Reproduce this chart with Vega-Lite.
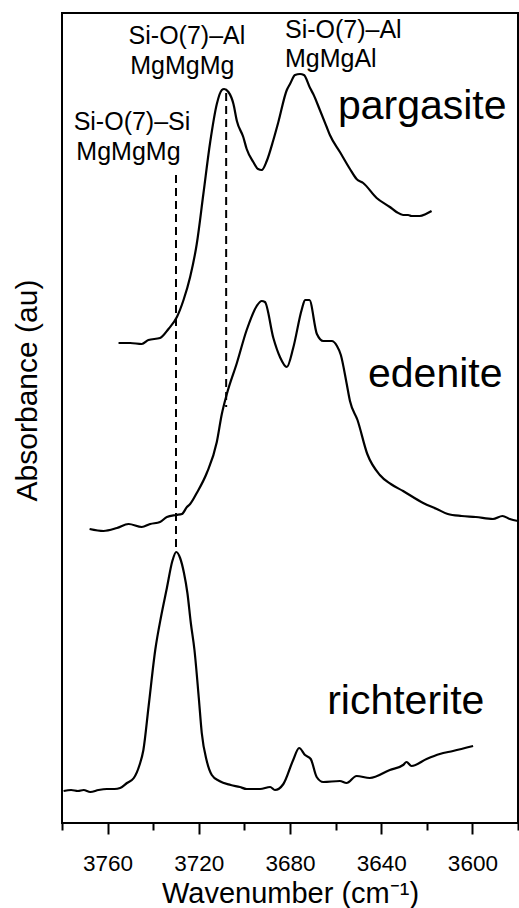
{
  "$schema": "https://vega.github.io/schema/vega-lite/v6.json",
  "autosize": {"type": "none"},
  "padding": {"left": 62, "top": 13, "right": 1, "bottom": 85},
  "width": 456,
  "height": 810,
  "background": "white",
  "config": {
    "view": {"stroke": "black", "strokeWidth": 2},
    "font": "Liberation Sans",
    "text": {"font": "Liberation Sans", "color": "black"}
  },
  "datasets": {
    "spectra": [
      {"sample": "richterite", "w": 3779.3, "a": 0.32},
      {"sample": "richterite", "w": 3776.0, "a": 0.33},
      {"sample": "richterite", "w": 3773.0, "a": 0.32},
      {"sample": "richterite", "w": 3770.5, "a": 0.33},
      {"sample": "richterite", "w": 3767.6, "a": 0.31},
      {"sample": "richterite", "w": 3764.0, "a": 0.33},
      {"sample": "richterite", "w": 3760.3, "a": 0.34},
      {"sample": "richterite", "w": 3757.0, "a": 0.34},
      {"sample": "richterite", "w": 3754.5, "a": 0.35},
      {"sample": "richterite", "w": 3751.5, "a": 0.40},
      {"sample": "richterite", "w": 3748.5, "a": 0.45},
      {"sample": "richterite", "w": 3746.0, "a": 0.58},
      {"sample": "richterite", "w": 3744.3, "a": 0.73},
      {"sample": "richterite", "w": 3742.0, "a": 1.17},
      {"sample": "richterite", "w": 3739.1, "a": 1.73},
      {"sample": "richterite", "w": 3736.5, "a": 2.07},
      {"sample": "richterite", "w": 3734.0, "a": 2.35},
      {"sample": "richterite", "w": 3731.6, "a": 2.62},
      {"sample": "richterite", "w": 3729.9, "a": 2.71},
      {"sample": "richterite", "w": 3728.2, "a": 2.65},
      {"sample": "richterite", "w": 3726.5, "a": 2.50},
      {"sample": "richterite", "w": 3725.0, "a": 2.30},
      {"sample": "richterite", "w": 3723.5, "a": 2.00},
      {"sample": "richterite", "w": 3721.9, "a": 1.73},
      {"sample": "richterite", "w": 3720.0, "a": 1.25},
      {"sample": "richterite", "w": 3718.7, "a": 0.90},
      {"sample": "richterite", "w": 3716.5, "a": 0.62},
      {"sample": "richterite", "w": 3714.3, "a": 0.48},
      {"sample": "richterite", "w": 3711.0, "a": 0.42},
      {"sample": "richterite", "w": 3706.0, "a": 0.38},
      {"sample": "richterite", "w": 3702.0, "a": 0.36},
      {"sample": "richterite", "w": 3699.0, "a": 0.34},
      {"sample": "richterite", "w": 3693.1, "a": 0.34},
      {"sample": "richterite", "w": 3688.7, "a": 0.36},
      {"sample": "richterite", "w": 3686.6, "a": 0.33},
      {"sample": "richterite", "w": 3682.9, "a": 0.39},
      {"sample": "richterite", "w": 3678.6, "a": 0.63},
      {"sample": "richterite", "w": 3676.0, "a": 0.75},
      {"sample": "richterite", "w": 3673.4, "a": 0.68},
      {"sample": "richterite", "w": 3670.9, "a": 0.64},
      {"sample": "richterite", "w": 3668.3, "a": 0.46},
      {"sample": "richterite", "w": 3665.4, "a": 0.41},
      {"sample": "richterite", "w": 3658.1, "a": 0.42},
      {"sample": "richterite", "w": 3655.2, "a": 0.40},
      {"sample": "richterite", "w": 3650.8, "a": 0.47},
      {"sample": "richterite", "w": 3645.0, "a": 0.45},
      {"sample": "richterite", "w": 3636.2, "a": 0.53},
      {"sample": "richterite", "w": 3630.4, "a": 0.58},
      {"sample": "richterite", "w": 3628.9, "a": 0.61},
      {"sample": "richterite", "w": 3626.7, "a": 0.57},
      {"sample": "richterite", "w": 3620.1, "a": 0.64},
      {"sample": "richterite", "w": 3614.3, "a": 0.69},
      {"sample": "richterite", "w": 3608.5, "a": 0.72},
      {"sample": "richterite", "w": 3599.7, "a": 0.77},

      {"sample": "edenite", "w": 3767.9, "a": 2.94},
      {"sample": "edenite", "w": 3761.8, "a": 2.92},
      {"sample": "edenite", "w": 3755.9, "a": 2.95},
      {"sample": "edenite", "w": 3750.8, "a": 2.99},
      {"sample": "edenite", "w": 3745.0, "a": 2.96},
      {"sample": "edenite", "w": 3741.3, "a": 2.99},
      {"sample": "edenite", "w": 3737.0, "a": 3.01},
      {"sample": "edenite", "w": 3734.0, "a": 3.06},
      {"sample": "edenite", "w": 3729.9, "a": 3.08},
      {"sample": "edenite", "w": 3727.4, "a": 3.09},
      {"sample": "edenite", "w": 3725.2, "a": 3.16},
      {"sample": "edenite", "w": 3723.8, "a": 3.19},
      {"sample": "edenite", "w": 3720.9, "a": 3.30},
      {"sample": "edenite", "w": 3716.5, "a": 3.50},
      {"sample": "edenite", "w": 3712.1, "a": 3.81},
      {"sample": "edenite", "w": 3709.9, "a": 4.09},
      {"sample": "edenite", "w": 3707.7, "a": 4.29},
      {"sample": "edenite", "w": 3703.3, "a": 4.60},
      {"sample": "edenite", "w": 3699.0, "a": 4.93},
      {"sample": "edenite", "w": 3694.6, "a": 5.17},
      {"sample": "edenite", "w": 3692.4, "a": 5.22},
      {"sample": "edenite", "w": 3691.0, "a": 5.21},
      {"sample": "edenite", "w": 3687.3, "a": 4.85},
      {"sample": "edenite", "w": 3684.4, "a": 4.66},
      {"sample": "edenite", "w": 3681.4, "a": 4.56},
      {"sample": "edenite", "w": 3678.6, "a": 4.75},
      {"sample": "edenite", "w": 3674.9, "a": 5.13},
      {"sample": "edenite", "w": 3673.4, "a": 5.23},
      {"sample": "edenite", "w": 3671.5, "a": 5.23},
      {"sample": "edenite", "w": 3668.2, "a": 4.89},
      {"sample": "edenite", "w": 3665.4, "a": 4.82},
      {"sample": "edenite", "w": 3661.7, "a": 4.82},
      {"sample": "edenite", "w": 3659.4, "a": 4.77},
      {"sample": "edenite", "w": 3657.7, "a": 4.68},
      {"sample": "edenite", "w": 3655.2, "a": 4.40},
      {"sample": "edenite", "w": 3653.7, "a": 4.22},
      {"sample": "edenite", "w": 3650.4, "a": 4.03},
      {"sample": "edenite", "w": 3646.1, "a": 3.69},
      {"sample": "edenite", "w": 3640.6, "a": 3.48},
      {"sample": "edenite", "w": 3635.8, "a": 3.39},
      {"sample": "edenite", "w": 3630.4, "a": 3.32},
      {"sample": "edenite", "w": 3621.6, "a": 3.20},
      {"sample": "edenite", "w": 3615.6, "a": 3.14},
      {"sample": "edenite", "w": 3610.8, "a": 3.09},
      {"sample": "edenite", "w": 3604.7, "a": 3.07},
      {"sample": "edenite", "w": 3598.5, "a": 3.06},
      {"sample": "edenite", "w": 3591.0, "a": 3.04},
      {"sample": "edenite", "w": 3586.8, "a": 3.07},
      {"sample": "edenite", "w": 3583.6, "a": 3.04},
      {"sample": "edenite", "w": 3580.0, "a": 3.02},

      {"sample": "pargasite", "w": 3755.2, "a": 4.80},
      {"sample": "pargasite", "w": 3750.1, "a": 4.80},
      {"sample": "pargasite", "w": 3745.0, "a": 4.79},
      {"sample": "pargasite", "w": 3742.1, "a": 4.83},
      {"sample": "pargasite", "w": 3737.0, "a": 4.85},
      {"sample": "pargasite", "w": 3733.3, "a": 4.94},
      {"sample": "pargasite", "w": 3729.6, "a": 5.06},
      {"sample": "pargasite", "w": 3726.7, "a": 5.23},
      {"sample": "pargasite", "w": 3723.8, "a": 5.46},
      {"sample": "pargasite", "w": 3720.9, "a": 5.79},
      {"sample": "pargasite", "w": 3718.0, "a": 6.29},
      {"sample": "pargasite", "w": 3715.0, "a": 6.81},
      {"sample": "pargasite", "w": 3712.1, "a": 7.19},
      {"sample": "pargasite", "w": 3709.9, "a": 7.33},
      {"sample": "pargasite", "w": 3708.9, "a": 7.34},
      {"sample": "pargasite", "w": 3707.0, "a": 7.31},
      {"sample": "pargasite", "w": 3704.8, "a": 7.19},
      {"sample": "pargasite", "w": 3703.3, "a": 7.02},
      {"sample": "pargasite", "w": 3700.5, "a": 6.86},
      {"sample": "pargasite", "w": 3699.0, "a": 6.74},
      {"sample": "pargasite", "w": 3696.1, "a": 6.61},
      {"sample": "pargasite", "w": 3694.0, "a": 6.54},
      {"sample": "pargasite", "w": 3692.4, "a": 6.53},
      {"sample": "pargasite", "w": 3690.2, "a": 6.62},
      {"sample": "pargasite", "w": 3687.3, "a": 6.83},
      {"sample": "pargasite", "w": 3685.1, "a": 7.01},
      {"sample": "pargasite", "w": 3681.4, "a": 7.33},
      {"sample": "pargasite", "w": 3680.0, "a": 7.39},
      {"sample": "pargasite", "w": 3677.8, "a": 7.48},
      {"sample": "pargasite", "w": 3675.6, "a": 7.49},
      {"sample": "pargasite", "w": 3673.9, "a": 7.48},
      {"sample": "pargasite", "w": 3671.2, "a": 7.35},
      {"sample": "pargasite", "w": 3669.8, "a": 7.29},
      {"sample": "pargasite", "w": 3666.9, "a": 7.13},
      {"sample": "pargasite", "w": 3663.9, "a": 6.96},
      {"sample": "pargasite", "w": 3662.5, "a": 6.88},
      {"sample": "pargasite", "w": 3658.1, "a": 6.71},
      {"sample": "pargasite", "w": 3653.7, "a": 6.54},
      {"sample": "pargasite", "w": 3650.8, "a": 6.44},
      {"sample": "pargasite", "w": 3647.9, "a": 6.40},
      {"sample": "pargasite", "w": 3642.0, "a": 6.25},
      {"sample": "pargasite", "w": 3636.2, "a": 6.16},
      {"sample": "pargasite", "w": 3633.3, "a": 6.11},
      {"sample": "pargasite", "w": 3630.4, "a": 6.08},
      {"sample": "pargasite", "w": 3628.2, "a": 6.08},
      {"sample": "pargasite", "w": 3626.7, "a": 6.07},
      {"sample": "pargasite", "w": 3623.1, "a": 6.07},
      {"sample": "pargasite", "w": 3620.4, "a": 6.09},
      {"sample": "pargasite", "w": 3617.9, "a": 6.12}
    ],
    "bands": [
      {"band": "Si-O(7)-Si MgMgMg", "w": 3730, "top": 6.48, "bottom": 2.74},
      {"band": "Si-O(7)-Al MgMgMg", "w": 3708, "top": 7.30, "bottom": 4.16}
    ],
    "names": [
      {"label": "pargasite", "w": 3659.0, "a": 7.04},
      {"label": "edenite", "w": 3645.8, "a": 4.36},
      {"label": "richterite", "w": 3663.7, "a": 1.09}
    ],
    "assignments": [
      {"label": "Si-O(7)–Si", "w": 3774.9, "a": 6.93},
      {"label": "MgMgMg", "w": 3773.7, "a": 6.63},
      {"label": "Si-O(7)–Al", "w": 3750.8, "a": 7.79},
      {"label": "MgMgMg", "w": 3750.1, "a": 7.49},
      {"label": "Si-O(7)–Al", "w": 3682.2, "a": 7.85},
      {"label": "MgMgAl", "w": 3682.2, "a": 7.56}
    ]
  },
  "layer": [
    {
      "data": {"name": "spectra"},
      "mark": {"type": "line", "color": "black", "strokeWidth": 2.2, "clip": true, "interpolate": "monotone"},
      "encoding": {
        "x": {
          "field": "w",
          "type": "quantitative",
          "scale": {"domain": [3780, 3580], "nice": false, "zero": false},
          "axis": {
            "values": [3780, 3770, 3760, 3750, 3740, 3730, 3720, 3710, 3700, 3690, 3680, 3670, 3660, 3650, 3640, 3630, 3620, 3610, 3600, 3590, 3580],
            "format": "d",
            "labelExpr": "datum.value % 40 === 0 ? datum.label : ''",
            "labelOverlap": false,
            "labelFlush": false,
            "tickSize": {"condition": {"test": "datum.value % 40 === 0", "value": 11}, "value": 7},
            "tickWidth": 2,
            "tickColor": "black",
            "domain": false,
            "grid": false,
            "labelFont": "Liberation Sans",
            "labelFontSize": 22.5,
            "labelColor": "black",
            "labelPadding": 18,
            "title": "Wavenumber (cm⁻¹)",
            "titleFont": "Liberation Sans",
            "titleFontSize": 29,
            "titleFontWeight": "normal",
            "titleColor": "black",
            "titleBaseline": "alphabetic",
            "titleY": 79
          }
        },
        "y": {
          "field": "a",
          "type": "quantitative",
          "scale": {"domain": [0, 8.1], "nice": false},
          "axis": {
            "title": "Absorbance (au)",
            "ticks": false,
            "labels": false,
            "domain": false,
            "grid": false,
            "titleFont": "Liberation Sans",
            "titleFontSize": 30,
            "titleFontWeight": "normal",
            "titleColor": "black",
            "titleAngle": 270,
            "titleAlign": "center",
            "titleBaseline": "bottom",
            "titleX": -20,
            "titleY": 377
          }
        },
        "detail": {"field": "sample"}
      }
    },
    {
      "data": {"name": "bands"},
      "mark": {"type": "rule", "color": "black", "strokeWidth": 2, "strokeDash": [8, 5]},
      "encoding": {
        "x": {"field": "w", "type": "quantitative"},
        "y": {"field": "top", "type": "quantitative"},
        "y2": {"field": "bottom"}
      }
    },
    {
      "data": {"name": "names"},
      "mark": {"type": "text", "align": "left", "baseline": "alphabetic", "fontSize": 41},
      "encoding": {
        "x": {"field": "w", "type": "quantitative"},
        "y": {"field": "a", "type": "quantitative"},
        "text": {"field": "label"}
      }
    },
    {
      "data": {"name": "assignments"},
      "mark": {"type": "text", "align": "left", "baseline": "alphabetic", "fontSize": 25},
      "encoding": {
        "x": {"field": "w", "type": "quantitative"},
        "y": {"field": "a", "type": "quantitative"},
        "text": {"field": "label"}
      }
    }
  ]
}
